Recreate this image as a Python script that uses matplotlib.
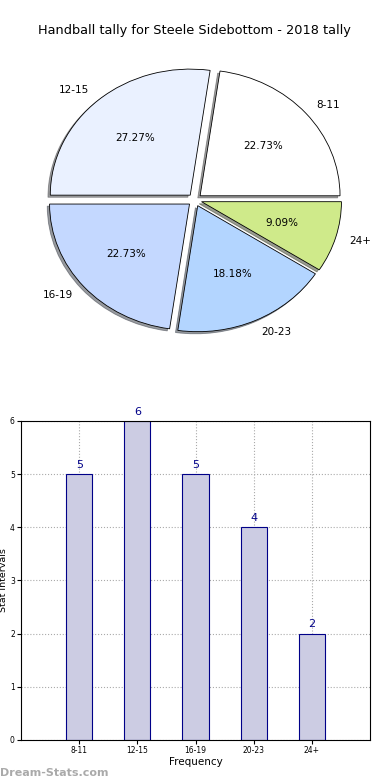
import matplotlib
matplotlib.use("Agg")
import matplotlib.pyplot as plt
import numpy as np

labels = ['8-11', '12-15', '16-19', '20-23', '24+']
counts = [5, 6, 5, 4, 2]
pie_colors = ['#ffffff', '#eaf1ff', '#c4d8ff', '#b3d5ff', '#cfea8a']

fig = plt.figure(figsize=(3.9, 7.8), dpi=100)

# pie
ax1 = fig.add_axes([0.051, 0.5417, 0.897, 0.404])
ax1.pie(counts, labels=labels, colors=pie_colors, autopct='%1.2f%%',
        explode=[0.05] * len(counts),
        shadow=dict(ox=-0.012, oy=-0.012, shade=0.75),
        startangle=0, labeldistance=1.1, pctdistance=0.6,
        wedgeprops=dict(edgecolor='black', linewidth=0.6),
        textprops=dict(fontsize=7.5))
ax1.set_aspect('auto')
ax1.set_xlim(-1.25, 1.25)
ax1.set_ylim(-1.25, 1.25)
ax1.set_title('Handball tally for Steele Sidebottom - 2018 tally', fontsize=9.3, pad=6)

# bars
ax2 = fig.add_axes([0.054, 0.0513, 0.895, 0.409])
x = np.arange(len(labels))
bars = ax2.bar(x, counts, width=0.45, color='#ccccE3', edgecolor='#000088', linewidth=0.8, zorder=2)
for b, v in zip(bars, counts):
    ax2.text(b.get_x() + b.get_width() / 2, v + 0.08, str(v), ha='center', va='bottom',
             color='#000088', fontsize=8)
ax2.set_xlim(-1, 5)
ax2.set_ylim(0, 6)
ax2.set_xticks(x)
ax2.set_xticklabels(labels, fontsize=5.5)
ax2.tick_params(axis='both', labelsize=5.5, pad=1.5, length=3)
ax2.grid(True, linestyle=':', color='#aaaaaa', linewidth=0.8, zorder=0)
ax2.set_axisbelow(True)
ax2.set_xlabel('Frequency', fontsize=7.5, labelpad=1)
ax2.set_ylabel('Stat Intervals', fontsize=6.8, labelpad=0)
ax2.yaxis.set_label_coords(-0.036, 0.5)

fig.text(0.0, 0.005, 'Dream-Stats.com', fontsize=8, color='#aaaaaa', fontweight='bold')

fig.savefig('out.png', dpi=100)
